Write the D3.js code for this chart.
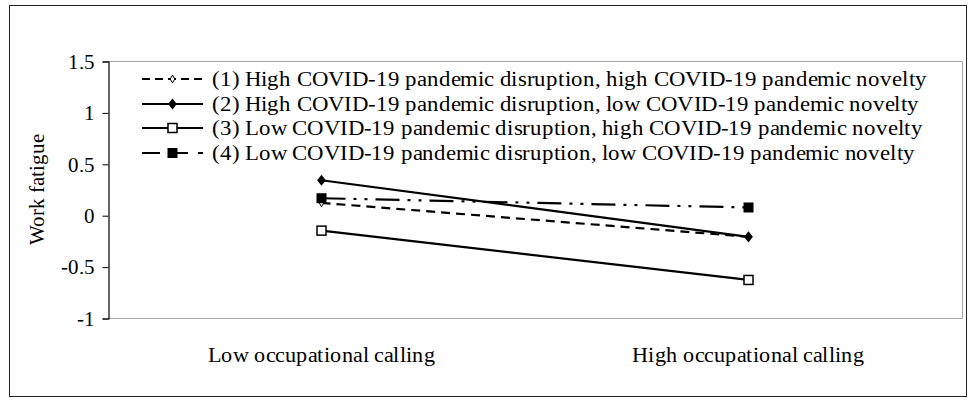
<!DOCTYPE html>
<html>
<head>
<meta charset="utf-8">
<script src="https://cdn.jsdelivr.net/npm/d3@7"></script>
<style>
  @font-face {
    font-family: "RefSerif";
    src: local("Liberation Serif"), local("LiberationSerif"), local("LiberationSerif-Regular"), local("Times New Roman"), local("Tinos");
  }
</style>
</head>
<body style="margin:0">
<svg id="chart" width="968" height="400"></svg>
<script>
// data
const categories = ["Low occupational calling", "High occupational calling"];
const seriesNames = [
    "(1) High COVID-19 pandemic disruption, high COVID-19 pandemic novelty",
    "(2) High COVID-19 pandemic disruption, low COVID-19 pandemic novelty",
    "(3) Low COVID-19 pandemic disruption, high COVID-19 pandemic novelty",
    "(4) Low COVID-19 pandemic disruption, low COVID-19 pandemic novelty"
];
const series1 = [0.12, -0.21];
const series2 = [0.34, -0.21];
const series3 = [-0.15, -0.63];
const series4 = [0.165, 0.075];
const yTicks = [-1, -0.5, 0, 0.5, 1, 1.5];

const allSeries = [series1, series2, series3, series4];
const dashes = ["9,6", null, null, "24,8,3,8,3,8"];
const markers = ["smallDiamond", "diamond", "openSquare", "square"];
const fontName = "RefSerif, 'Liberation Serif', 'Times New Roman', Tinos, monospace";

const svg = d3.select("#chart");

// outer frame
svg.append("rect")
    .attr("x", 9.5).attr("y", 5.5)
    .attr("width", 957).attr("height", 391)
    .attr("fill", "none").attr("stroke", "#222").attr("stroke-width", 1);

const plotL = 108, plotR = 962, plotT = 61, plotB = 318;

const x = d3.scalePoint().domain(categories).range([plotL, plotR]).padding(0.5);
const y = d3.scaleLinear().domain([-1, 1.5]).range([plotB, plotT]);

// plot area border (grey)
svg.append("path")
    .attr("d", `M${plotL},${plotT + 0.5}H${plotR + 0.5}V${plotB + 0.5}H${plotL}`)
    .attr("fill", "none").attr("stroke", "#a6a6a6").attr("stroke-width", 1);

// y axis
const yAxis = svg.append("g")
    .attr("transform", `translate(${plotL + 0.5},0.5)`)
    .call(d3.axisLeft(y).tickValues(yTicks).tickSize(6).tickPadding(8)
        .tickFormat(d => String(d)));
yAxis.attr("font-family", fontName).attr("font-size", 21);
yAxis.select(".domain").attr("stroke", "#000").attr("stroke-width", 1.2);
yAxis.selectAll(".tick line").attr("stroke", "#000");
yAxis.selectAll("text").attr("fill", "#000");

// y title
svg.append("text")
    .attr("transform", `translate(44,${(plotT + plotB) / 2}) rotate(-90)`)
    .attr("text-anchor", "middle")
    .attr("font-family", fontName)
    .attr("font-size", 21)
    .text("Work fatigue");

// category labels
const catText = svg.selectAll(".cat")
    .data(categories)
    .join("text")
    .attr("class", "cat")
    .attr("x", d => x(d))
    .attr("y", 362)
    .attr("text-anchor", "middle")
    .attr("font-family", fontName)
    .attr("font-size", 21)
    .text(d => d);

function drawMarker(g, type, cx, cy) {
    if (type === "smallDiamond") {
        g.append("path")
            .attr("d", d3.symbol(d3.symbolDiamond, 18)())
            .attr("transform", `translate(${cx},${cy})`)
            .attr("fill", "#fff").attr("stroke", "#000").attr("stroke-width", 1);
    } else if (type === "diamond") {
        g.append("path")
            .attr("d", d3.symbol(d3.symbolDiamond, 50)())
            .attr("transform", `translate(${cx},${cy}) scale(1.15,0.85)`)
            .attr("fill", "#000");
    } else if (type === "openSquare") {
        g.append("rect")
            .attr("x", cx - 4.5).attr("y", cy - 4.5)
            .attr("width", 9).attr("height", 9)
            .attr("fill", "#fff").attr("stroke", "#000").attr("stroke-width", 1.5);
    } else {
        g.append("rect")
            .attr("x", cx - 5).attr("y", cy - 5)
            .attr("width", 10).attr("height", 10)
            .attr("fill", "#000");
    }
}

const line = d3.line().x((d, i) => x(categories[i])).y(d => y(d));

const plot = svg.append("g");
allSeries.forEach((s, k) => {
    plot.append("path")
        .datum(s)
        .attr("d", line)
        .attr("fill", "none")
        .attr("stroke", "#000")
        .attr("stroke-width", 2.2)
        .attr("stroke-dasharray", dashes[k]);
});
allSeries.forEach((s, k) => {
    s.forEach((v, i) => drawMarker(plot, markers[k], x(categories[i]), y(v)));
});

// legend
const legend = svg.append("g");
const legY = [79, 104, 128, 153];
const legTexts = [];
seriesNames.forEach((name, k) => {
    const ly = legY[k];
    const lg = legend.append("g");
    let d = dashes[k];
    if (k === 3) d = "18,10";
    lg.append("line")
        .attr("x1", 142).attr("x2", 203)
        .attr("y1", ly).attr("y2", ly)
        .attr("stroke", "#000").attr("stroke-width", 2.2)
        .attr("stroke-dasharray", k === 0 ? "8,5" : d);
    drawMarker(lg, markers[k], 172.5, ly);
    legTexts.push(lg.append("text")
        .attr("x", 212)
        .attr("y", ly)
        .attr("dy", "0.33em")
        .attr("font-family", fontName)
        .attr("font-size", 21)
        .text(name));
});

// the source picture is a little wider than the font; stretch text to its widths
const legFactor = 715 / legTexts[0].node().getComputedTextLength();
legTexts.forEach(t => {
    t.attr("textLength", t.node().getComputedTextLength() * legFactor)
     .attr("lengthAdjust", "spacingAndGlyphs");
});
const catFactor = 228 / catText.nodes()[0].getComputedTextLength();
catText.each(function () {
    d3.select(this)
        .attr("textLength", this.getComputedTextLength() * catFactor)
        .attr("lengthAdjust", "spacingAndGlyphs");
});
</script>
</body>
</html>
